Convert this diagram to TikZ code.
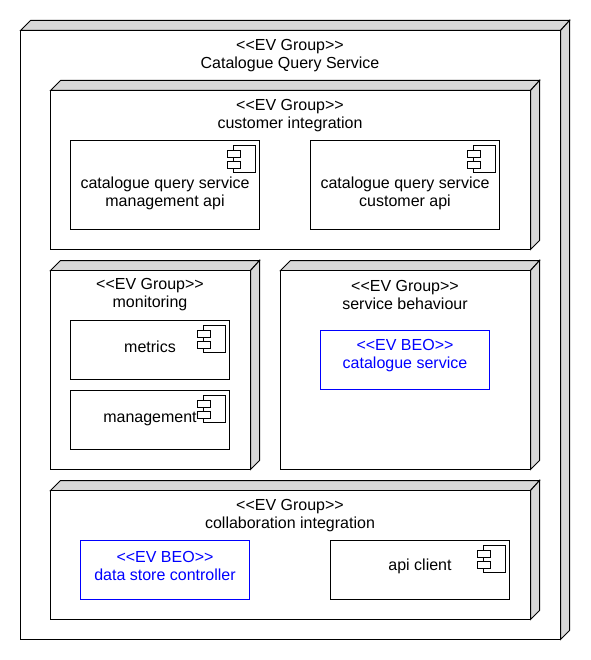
\documentclass[tikz,border=0pt]{standalone}
\usepackage{fontspec}
\setmainfont{Liberation Sans}
\usetikzlibrary{positioning}
\definecolor{sidegray}{HTML}{D8D8D8}
\newcommand{\px}{0.75pt}
\newcommand{\evgroup}{<{}<EV Group>{}>}
\newcommand{\evbeo}{<{}<EV BEO>{}>}
\tikzset{
    group/.style={rectangle, draw=black, fill=white, line width=\px, inner sep=0pt, outer sep=0pt, anchor=north west,
        append after command={\pgfextra{
            \draw[fill=sidegray, line width=\px]
            (\tikzlastnode.north west) -- ++(10,-10) -- ([shift={(9,-10)}]\tikzlastnode.north east) -- (\tikzlastnode.north east) -- cycle;
            \draw[fill=sidegray, line width=\px]
            (\tikzlastnode.north east) -- ([shift={(9,-10)}]\tikzlastnode.north east) -- ([shift={(9,-9)}]\tikzlastnode.south east) -- (\tikzlastnode.south east) -- cycle;
        }}},
    component/.style={rectangle, draw=black, line width=\px, inner sep=0pt, outer sep=0pt, anchor=north west,
        append after command={\pgfextra{
            \draw[line width=\px] ([shift={(-26,5)}]\tikzlastnode.north east) rectangle ++(22,27);
            \draw[fill=white, line width=\px] ([shift={(-32,10)}]\tikzlastnode.north east) rectangle ++(13,7);
            \draw[fill=white, line width=\px] ([shift={(-32,21)}]\tikzlastnode.north east) rectangle ++(13,7);
        }}},
    beo/.style={rectangle, draw=blue, line width=\px, inner sep=0pt, outer sep=0pt, anchor=north west},
    label/.style={align=center, inner sep=0pt, font=\fontsize{12}{13.5}\selectfont},
    beolabel/.style={label, text=blue}
}
\begin{document}
\begin{tikzpicture}[x=\px, y=-\px]
    \useasboundingbox (0,0) rectangle (590,660);

    % Outer group
    \node[group, minimum width=540*\px, minimum height=609*\px] (catalogue) at (20.5,30.5) {};
    \node[label] (cataloguetext) at (290,55.5) {\evgroup\\Catalogue Query Service};

    % Customer integration
    \node[group, minimum width=480*\px, minimum height=159*\px] (customer) at (50.5,90.5) {};
    \node[label] (customertext) at (290,115.5) {\evgroup\\customer integration};
    \node[component, minimum width=189*\px, minimum height=89*\px] (mgmtapi) at (70.5,140.5) {};
    \node[label] (mgmtapitext) at (165,193) {catalogue query service\\management api};
    \node[component, minimum width=189*\px, minimum height=89*\px] (custapi) at (310.5,140.5) {};
    \node[label] (custapitext) at (405,193) {catalogue query service\\customer api};

    % Monitoring
    \node[group, minimum width=200*\px, minimum height=199*\px] (monitoring) at (50.5,270.5) {};
    \node[label] (monitoringtext) at (150,295) {\evgroup\\monitoring};
    \node[component, minimum width=159*\px, minimum height=59*\px] (metrics) at (70.5,320.5) {};
    \node[label] (metricstext) at (150,347) {metrics};
    \node[component, minimum width=159*\px, minimum height=59*\px] (management) at (70.5,390.5) {};
    \node[label] (managementtext) at (150,419) {management};

    % Service behaviour
    \node[group, minimum width=250*\px, minimum height=199*\px] (behaviour) at (280.5,270.5) {};
    \node[label] (behaviourtext) at (405,295) {\evgroup\\service behaviour};
    \node[beo, minimum width=169*\px, minimum height=59*\px] (service) at (320.5,330.5) {};
    \node[beolabel] (servicetext) at (405,356) {\evbeo\\catalogue service};

    % Collaboration integration
    \node[group, minimum width=480*\px, minimum height=129*\px] (collab) at (50.5,490.5) {};
    \node[label] (collabtext) at (290,515.5) {\evgroup\\collaboration integration};
    \node[beo, minimum width=169*\px, minimum height=59*\px] (datastore) at (80.5,540.5) {};
    \node[beolabel] (datastoretext) at (165,566) {\evbeo\\data store controller};
    \node[component, minimum width=179*\px, minimum height=59*\px] (apiclient) at (330.5,540.5) {};
    \node[label] (apiclienttext) at (420,566) {api client};

\end{tikzpicture}
\end{document}
